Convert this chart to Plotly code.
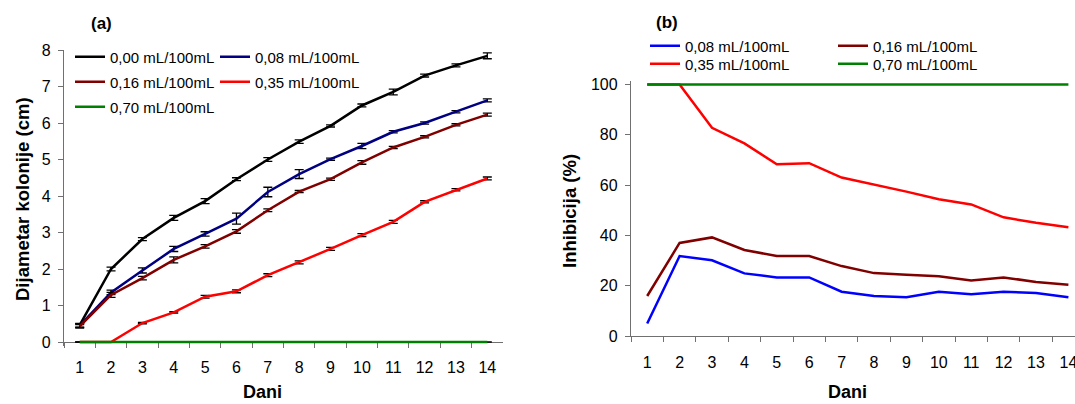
import plotly.graph_objects as go

W, H = 1075, 404
FONT = "Liberation Sans, Arial, sans-serif"

days = [str(d) for d in range(1, 15)]

# ---- Panel (a): colony diameter (cm) ----
dia_000 = [0.46, 2.00, 2.82, 3.40, 3.86, 4.46, 5.00, 5.49, 5.92, 6.48, 6.85, 7.30, 7.58, 7.84]
err_000 = [0.05, 0.05, 0.04, 0.07, 0.07, 0.04, 0.05, 0.05, 0.03, 0.04, 0.08, 0.04, 0.04, 0.08]
dia_008 = [0.45, 1.36, 1.96, 2.55, 2.96, 3.38, 4.11, 4.60, 5.01, 5.37, 5.76, 6.00, 6.31, 6.62]
err_008 = [0.05, 0.06, 0.07, 0.07, 0.06, 0.15, 0.13, 0.12, 0.03, 0.07, 0.03, 0.03, 0.03, 0.04]
dia_016 = [0.43, 1.29, 1.75, 2.25, 2.62, 3.03, 3.61, 4.12, 4.46, 4.92, 5.33, 5.62, 5.95, 6.23]
err_016 = [0.05, 0.07, 0.05, 0.08, 0.05, 0.05, 0.04, 0.03, 0.03, 0.05, 0.03, 0.03, 0.03, 0.04]
dia_035 = [0.00, 0.00, 0.52, 0.81, 1.24, 1.39, 1.83, 2.18, 2.55, 2.93, 3.29, 3.84, 4.17, 4.48]
err_035 = [0.00, 0.00, 0.02, 0.02, 0.04, 0.04, 0.04, 0.04, 0.04, 0.04, 0.04, 0.03, 0.03, 0.04]
dia_070 = [0.00] * 14
err_070 = [0.00] * 14

# ---- Panel (b): inhibition (%) ----
inh_008 = [5.0, 31.8, 30.1, 24.9, 23.3, 23.3, 17.6, 15.9, 15.4, 17.6, 16.6, 17.6, 17.1, 15.4]
inh_016 = [15.9, 37.0, 39.2, 34.2, 31.8, 31.8, 27.8, 25.0, 24.4, 23.8, 22.1, 23.3, 21.5, 20.4]
inh_035 = [100.0, 100.0, 82.8, 76.6, 68.3, 68.7, 63.0, 60.3, 57.4, 54.4, 52.3, 47.2, 45.0, 43.2]
inh_070 = [100.0] * 14

labels = ["0,00 mL/100mL", "0,08 mL/100mL", "0,16 mL/100mL", "0,35 mL/100mL", "0,70 mL/100mL"]

fig = go.Figure()

series_a = [
    (labels[0], dia_000, err_000, "#000000", "legend"),
    (labels[1], dia_008, err_008, "#000080", "legend"),
    (labels[2], dia_016, err_016, "#800000", "legend2"),
    (labels[3], dia_035, err_035, "#FF0000", "legend2"),
    (labels[4], dia_070, err_070, "#008000", "legend3"),
]
for name, vals, errs, col, lg in series_a:
    fig.add_trace(go.Scatter(
        x=days, y=vals, name=name, mode="lines",
        line=dict(color=col, width=2.5),
        error_y=dict(type="data", array=errs, visible=True, color="#000000",
                     thickness=1.3, width=4.5),
        cliponaxis=False, legend=lg, xaxis="x", yaxis="y",
    ))

series_b = [
    (labels[1], inh_008, "#0000FF", "legend4"),
    (labels[2], inh_016, "#800000", "legend4"),
    (labels[3], inh_035, "#FF0000", "legend5"),
    (labels[4], inh_070, "#008000", "legend5"),
]
for name, vals, col, lg in series_b:
    fig.add_trace(go.Scatter(
        x=days, y=vals, name=name, mode="lines",
        line=dict(color=col, width=2.5),
        cliponaxis=False, legend=lg, xaxis="x2", yaxis="y2",
    ))

axis_common = dict(showline=True, linecolor="#707070", linewidth=1.3,
                   ticks="outside", ticklen=5, tickcolor="#707070", tickwidth=1.3,
                   showgrid=False, zeroline=False, automargin=False, layer="below traces",
                   tickfont=dict(family=FONT, size=16, color="#000000"))

# pixel geometry of the two panels
A_L, A_R, A_TOP, A_ZERO = 64, 503, 50, 342      # panel (a): y=8 at A_TOP, y=0 at A_ZERO
B_L, B_STEP, B_TOP, B_ZERO = 631, 32.4, 84.5, 336  # panel (b): y=100 at B_TOP, y=0 at B_ZERO

a_unit = (A_ZERO - A_TOP) / 8.0
a_pad = 0.1  # small range padding so the 0-line is not clipped
b_unit = (B_ZERO - B_TOP) / 100.0
b_pad = 1.2

def leg(x, y, ew):
    return dict(orientation="h", x=x / W, y=1 - y / H, xanchor="left", yanchor="middle",
                entrywidth=ew, entrywidthmode="pixels",
                font=dict(family=FONT, size=15, color="#000000"),
                bgcolor="rgba(0,0,0,0)", borderwidth=0, tracegroupgap=0)

def ann(text, x, y, size=17, angle=0):
    return dict(text=text, x=x / W, y=1 - y / H, xref="paper", yref="paper",
                xanchor="center", yanchor="middle", showarrow=False, textangle=angle,
                font=dict(family=FONT, size=size, color="#000000"))

fig.update_layout(
    width=W, height=H,
    margin=dict(l=0, r=0, t=0, b=0, autoexpand=False),
    paper_bgcolor="white", plot_bgcolor="white",
    font=dict(family=FONT, color="#000000"),
    showlegend=True,
    xaxis=dict(domain=[A_L / W, A_R / W], type="category", range=[-0.5, 13.5],
               tickson="boundaries", anchor="free", position=1 - A_ZERO / H,
               ticklabelstandoff=11, **axis_common),
    yaxis=dict(domain=[1 - (A_ZERO + a_pad * a_unit) / H, 1 - A_TOP / H],
               range=[-a_pad, 8], tickvals=list(range(0, 9)), anchor="x",
               ticklabelstandoff=4, **axis_common),
    xaxis2=dict(domain=[B_L / W, 1.0], type="category",
                range=[-0.5, -0.5 + (W - B_L) / B_STEP],
                tickson="boundaries", anchor="y2", ticklabelstandoff=12, **axis_common),
    yaxis2=dict(domain=[1 - B_ZERO / H, 1 - (B_TOP - b_pad * b_unit) / H],
                range=[0, 100 + b_pad], tickvals=[0, 20, 40, 60, 80, 100], anchor="x2",
                ticklabelstandoff=4, **axis_common),
    legend=leg(70, 57, 100),
    legend2=leg(70, 82, 100),
    legend3=leg(70, 107, 100),
    legend4=leg(645, 46, 143),
    legend5=leg(645, 64, 143),
    annotations=[
        ann("<b>(a)</b>", 101, 23),
        ann("<b>(b)</b>", 667, 22),
        ann("<b>Dijametar kolonije (cm)</b>", 22, 199, size=18.5, angle=-90),
        ann("<b>Dani</b>", 262, 392, size=18),
        ann("<b>Inhibicija (%)</b>", 569, 211, size=18.5, angle=-90),
        ann("<b>Dani</b>", 847, 392, size=18),
    ],
)

fig.write_html("out.html")
